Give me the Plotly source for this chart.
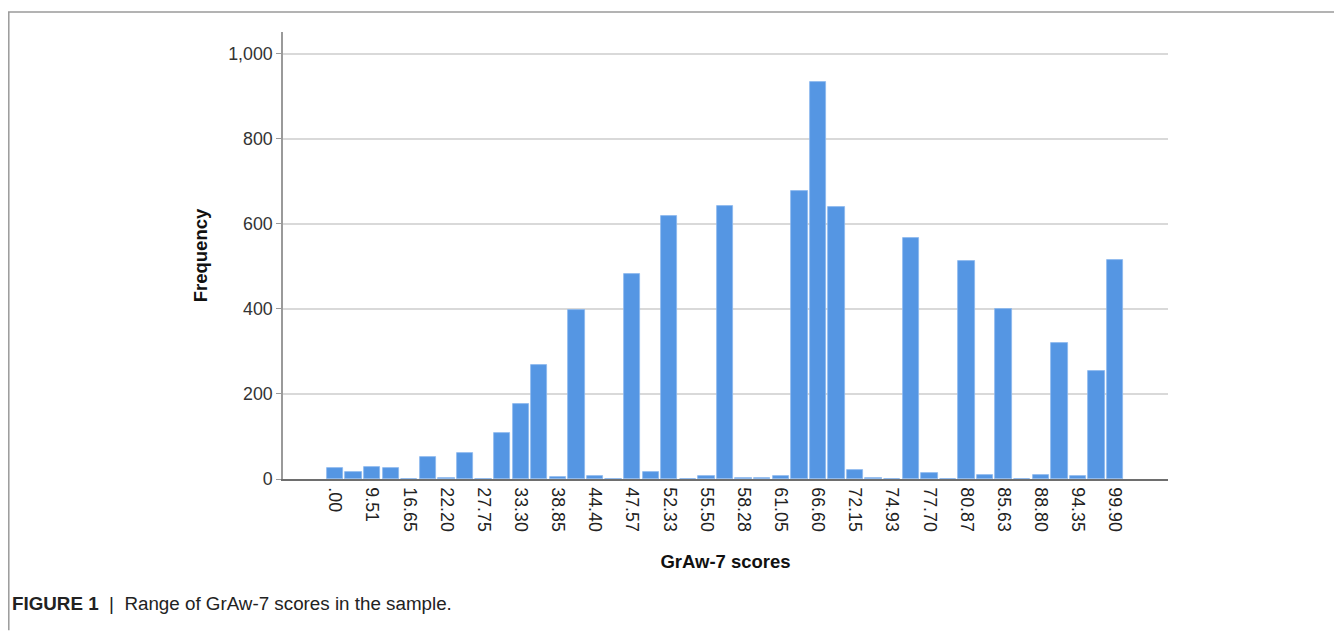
import plotly.graph_objects as go

# Tick labels (shown on every other bar)
tick_labels = [".00", "9.51", "16.65", "22.20", "27.75", "33.30", "38.85", "44.40",
               "47.57", "52.33", "55.50", "58.28", "61.05", "66.60", "72.15", "74.93",
               "77.70", "80.87", "85.63", "88.80", "94.35", "99.90"]

# Frequencies for the 43 score categories
frequencies = [26, 17, 28, 25, 0, 52, 2, 62, 0, 107,
               177, 269, 5, 398, 7, 0, 483, 17, 618, 1,
               7, 643, 2, 3, 8, 678, 933, 640, 20, 2,
               0, 567, 13, 0, 512, 10, 400, 0, 10, 320,
               8, 255, 514]

positions = list(range(len(frequencies)))
tick_positions = positions[::2]

W, H = 1334, 623
L, R, T, B = 275, 174, 24, 151.5
PW, PH = W - L - R, H - T - B


def px(x):
    return (x - L) / PW


def py(y):
    return (H - B - y) / PH


fig = go.Figure()
fig.add_trace(go.Bar(
    x=positions, y=frequencies, width=0.88,
    marker=dict(color="#5596e3", line=dict(color="#8cb8ee", width=0.8)),
    showlegend=False,
))

font_family = "Liberation Sans, Arial, sans-serif"

fig.update_layout(
    width=W, height=H,
    paper_bgcolor="white", plot_bgcolor="white",
    margin=dict(l=L, r=R, t=T, b=B),
    font=dict(family=font_family, color="#222222", size=17.5),
    xaxis=dict(
        range=[-2.8, 44.85],
        tickmode="array", tickvals=tick_positions, ticktext=tick_labels,
        tickangle=90, ticks="", showgrid=False, zeroline=False,
        showline=True, linecolor="#6e6e6e", linewidth=1.5,
        ticklabelstandoff=3,
        tickfont=dict(size=17.8, color="#222222"),
        title=dict(text="<b>GrAw-7 scores</b>", font=dict(size=18.5, color="#111111"), standoff=24),
    ),
    yaxis=dict(
        range=[0, 1051],
        tickvals=[0, 200, 400, 600, 800, 1000],
        ticktext=["0", "200", "400", "600", "800", "1,000"],
        ticks="outside", ticklen=5, tickcolor="#9a9a9a", tickwidth=1,
        showgrid=True, gridcolor="#d9d9d9", gridwidth=1.5,
        zeroline=False, showline=True, linecolor="#9a9a9a", linewidth=1.5,
        tickfont=dict(size=17.8, color="#333333"),
        title=dict(text="<b>Frequency</b>", font=dict(size=18.5, color="#111111"), standoff=16),
    ),
    bargap=0,
    shapes=[
        dict(type="line", xref="paper", yref="paper", x0=px(0), x1=px(W + 10),
             y0=py(4), y1=py(4), line=dict(color="#9a9a9a", width=1.5)),
        dict(type="line", xref="paper", yref="paper", x0=px(0.8), x1=px(0.8),
             y0=py(4), y1=py(H), line=dict(color="#9a9a9a", width=1.5)),
    ],
    annotations=[
        dict(text="<b>FIGURE 1</b>  |  Range of GrAw-7 scores in the sample.",
             xref="paper", yref="paper", x=px(2), y=py(596),
             xanchor="left", yanchor="middle", showarrow=False,
             font=dict(size=18.8, color="#222222", family=font_family)),
    ],
)

fig.write_html("out.html")
